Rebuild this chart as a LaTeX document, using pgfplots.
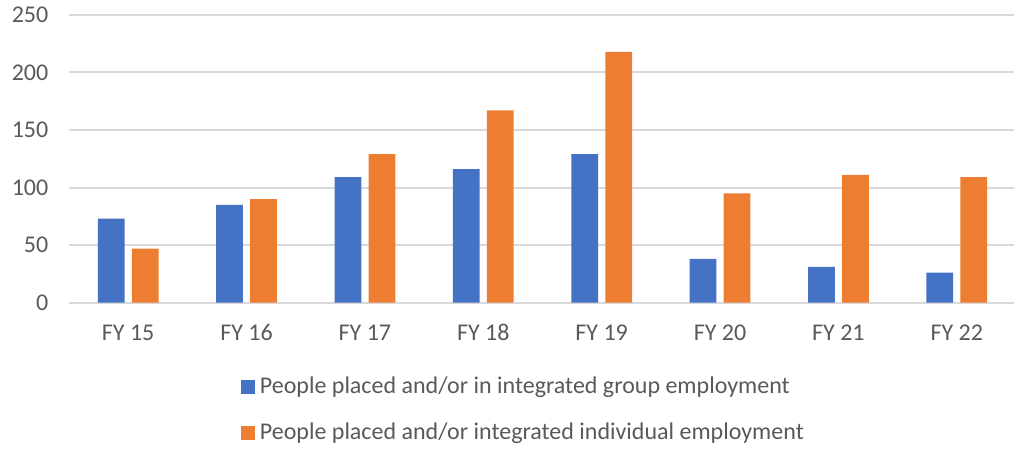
\documentclass[border=0pt]{standalone}
\usepackage{fontspec}
\setmainfont{Carlito}
\usepackage{pgfplots}
\pgfplotsset{compat=1.18}

\definecolor{xlblue}{HTML}{4472C4}
\definecolor{xlorange}{HTML}{ED7D31}
\definecolor{txtgray}{HTML}{595959}
\definecolor{gridgray}{HTML}{D9D9D9}

\pgfplotstableread{
x  group  indiv
0  73     47
1  85     90
2  109    129
3  116    167
4  129    218
5  38     95
6  31     111
7  26     109
}\fydata

\pgfplotsset{
  sqlegend/.style={legend image code/.code={%
    \fill[##1] (0pt,-5.25pt) rectangle (10.5pt,5.25pt);}},
}

\begin{document}
\begin{tikzpicture}
\begin{axis}[
  scale only axis,
  width=710.25pt,
  height=215.8pt,
  ybar=5.5pt,
  bar width=20pt,
  xmin=-0.5, xmax=7.5,
  ymin=0, ymax=250,
  ytick={0,50,100,150,200,250},
  xtick={0,...,7},
  xticklabels={FY 15,FY 16,FY 17,FY 18,FY 19,FY 20,FY 21,FY 22},
  axis line style={draw=none},
  ymajorgrids,
  grid style={gridgray, line width=1.5pt},
  major tick length=0pt,
  tick label style={font=\fontsize{18}{21.6}\selectfont, text=txtgray},
  /pgf/number format/assume math mode=true,
  yticklabel style={xshift=-12pt},
  xticklabel style={yshift=-13pt, text height=12pt, text depth=3pt},
  legend style={
    at={(0.1816,-0.242)}, anchor=north west,
    draw=none, fill=none, inner sep=0pt,
    font=\fontsize{18}{21.6}\selectfont, text=txtgray,
    legend cell align=left, row sep=13.5pt,
    nodes={inner sep=3.5pt},
  },
  legend columns=1,
  clip=false,
]
\addplot[fill=xlblue, draw=none, sqlegend] table[x=x, y=group] {\fydata};
\addplot[fill=xlorange, draw=none, sqlegend] table[x=x, y=indiv] {\fydata};
\legend{People placed and/or in integrated group employment,
        People placed and/or integrated individual employment}
\coordinate (o) at (rel axis cs:0,0);
\end{axis}
\pgfresetboundingbox
\path (o) ++(-51.75pt,-110.5pt) rectangle ++(760.5pt,337.5pt);
\end{tikzpicture}
\end{document}
